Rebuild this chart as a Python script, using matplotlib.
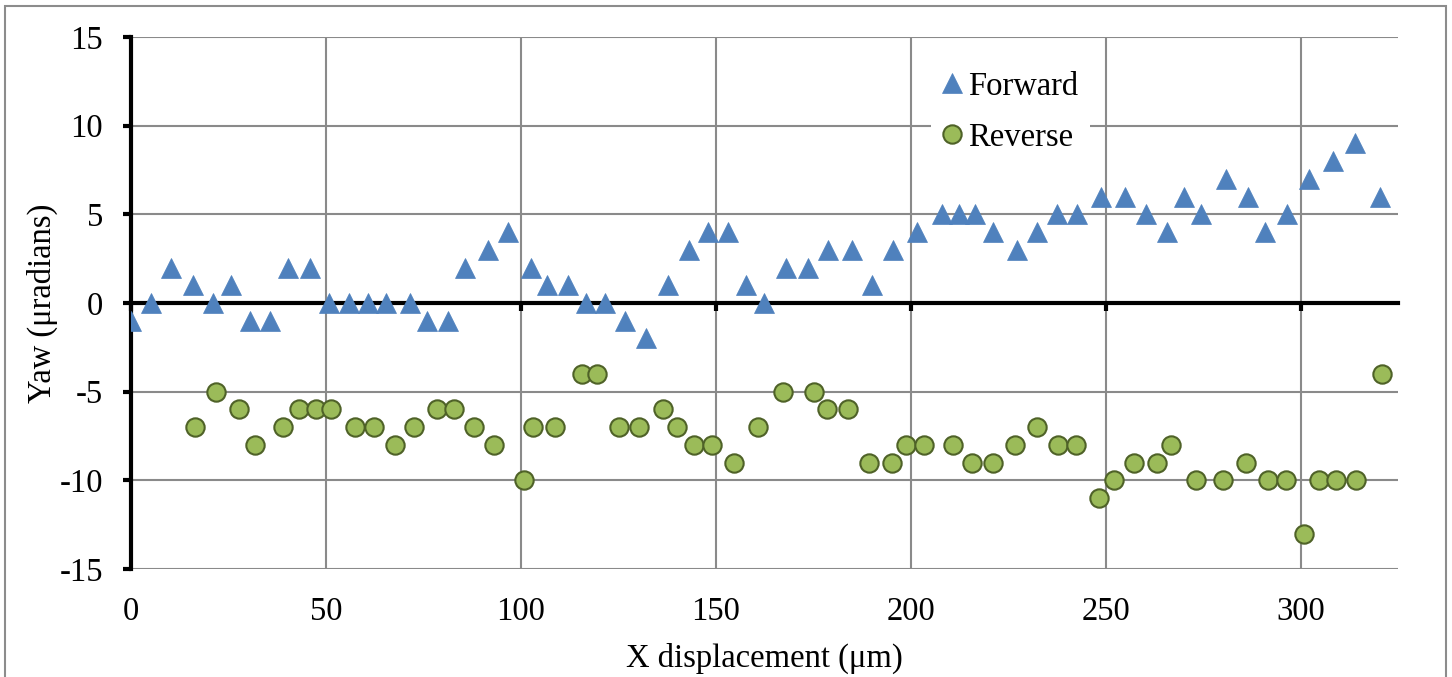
import matplotlib
matplotlib.use('Agg')
import matplotlib.pyplot as plt
from matplotlib.patches import Rectangle

plt.rcParams['font.family'] = 'Liberation Serif'
plt.rcParams['axes.unicode_minus'] = False

fs = 23.5

# forward scan
fwd_x = [0, 5.1, 10.2, 15.9, 21.1, 25.6, 30.5, 35.6, 40.2, 46.0,
         50.7, 55.9, 60.9, 65.3, 71.5, 75.8, 81.2, 85.8, 91.5, 96.8,
         102.5, 106.7, 112.0, 116.6, 121.7, 126.8, 132.0, 137.8, 143.1, 148.1,
         153.1, 157.8, 162.4, 168.1, 173.7, 178.8, 185.0, 190.2, 195.4, 201.6,
         208.0, 212.4, 216.5, 221.1, 227.3, 232.3, 237.5, 242.6, 248.7, 254.9,
         260.4, 265.8, 270.2, 274.4, 280.8, 286.4, 290.8, 296.4, 302.1, 308.4,
         313.9, 320.4]
fwd_y = [-1, 0, 2, 1, 0, 1, -1, -1, 2, 2,
         0, 0, 0, 0, 0, -1, -1, 2, 3, 4,
         2, 1, 1, 0, 0, -1, -2, 1, 3, 4,
         4, 1, 0, 2, 2, 3, 3, 1, 3, 4,
         5, 5, 5, 4, 3, 4, 5, 5, 6, 6,
         5, 4, 6, 5, 7, 6, 4, 5, 7, 8,
         9, 6]

# reverse scan
rev_x = [16.3, 21.8, 27.7, 31.8, 39.1, 43.0, 47.4, 51.3, 57.5, 62.3,
         67.7, 72.5, 78.4, 82.9, 88.1, 93.1, 100.8, 103.1, 108.8, 115.7,
         119.5, 125.1, 130.4, 136.4, 140.0, 144.5, 149.0, 154.7, 160.9, 167.2,
         175.1, 178.5, 184.0, 189.2, 195.2, 198.9, 203.4, 210.9, 215.7, 221.1,
         226.8, 232.5, 237.8, 242.5, 248.3, 252.1, 257.3, 263.1, 266.8, 273.2,
         280.0, 286.1, 291.6, 296.2, 300.9, 304.8, 309.2, 314.1, 321.0]
rev_y = [-7, -5, -6, -8, -7, -6, -6, -6, -7, -7,
         -8, -7, -6, -6, -7, -8, -10, -7, -7, -4,
         -4, -7, -7, -6, -7, -8, -8, -9, -7, -5,
         -5, -6, -6, -9, -9, -8, -8, -8, -9, -9,
         -8, -7, -8, -8, -11, -10, -9, -9, -8, -10,
         -10, -9, -10, -10, -13, -10, -10, -10, -4]

xticks = [0, 50, 100, 150, 200, 250, 300]
yticks = [-15, -10, -5, 0, 5, 10, 15]

W, H = 1452, 677
fig = plt.figure(figsize=(W / 100., H / 100.), dpi=100)
ax = fig.add_axes([131. / W, 1 - 569. / H, (1398. - 131.) / W, (569. - 37.) / H])

# outer chart border
fig.patches.append(Rectangle((5. / W, -0.05), (1446. - 5.) / W, 1.05 - 6. / H,
                             transform=fig.transFigure, fill=False,
                             edgecolor='#8c8c8c', lw=1.5, clip_on=False))

grid_c = '#8a8a8a'
for v in yticks:
    if v != 0:
        ax.axhline(v, color=grid_c, lw=1.5, zorder=1)
for v in xticks[1:]:
    ax.axvline(v, color=grid_c, lw=1.5, zorder=1)

ax.plot(fwd_x, fwd_y, '^', ms=14.8, color='#4f81bd', mec='#4f81bd', mew=0.5,
        label='Forward', zorder=4)
ax.plot(rev_x, rev_y, 'o', ms=13.2, color='#9bbb59', mec='#4f6228', mew=1.5,
        label='Reverse', zorder=4)

ax.set_xlim(0, 325)
ax.set_ylim(-15, 15)

for s in ['top', 'right']:
    ax.spines[s].set_visible(False)
ax.spines['left'].set_linewidth(3)
ax.spines['bottom'].set_position(('data', 0))
ax.spines['bottom'].set_linewidth(3)
ax.spines['bottom'].set_zorder(3)

ax.set_yticks(yticks)
ax.set_xticks(xticks)
ax.tick_params(axis='y', direction='out', length=6, width=3, labelsize=fs, pad=14)
ax.tick_params(axis='x', direction='out', length=6, width=3, labelbottom=False)

# labels sit at the bottom of the plot, not on the zero line
sec = ax.secondary_xaxis('bottom')
sec.set_xticks(xticks)
sec.spines['bottom'].set_visible(False)
sec.tick_params(length=0, labelsize=fs, pad=20)

sec.set_xlabel('X displacement (μm)', fontsize=fs, labelpad=11)
ax.set_ylabel('Yaw (μradians)', fontsize=fs, labelpad=1)

leg = ax.legend(loc='upper left', bbox_to_anchor=(931. / W, 1 - 60. / H),
                bbox_transform=fig.transFigure, fontsize=fs, frameon=True,
                fancybox=False, edgecolor='none', framealpha=1,
                handlelength=0.6, handletextpad=0.2, borderpad=0.35,
                borderaxespad=0, labelspacing=0.62)
leg.set_zorder(5)

fig.savefig('out.png', dpi=100)
